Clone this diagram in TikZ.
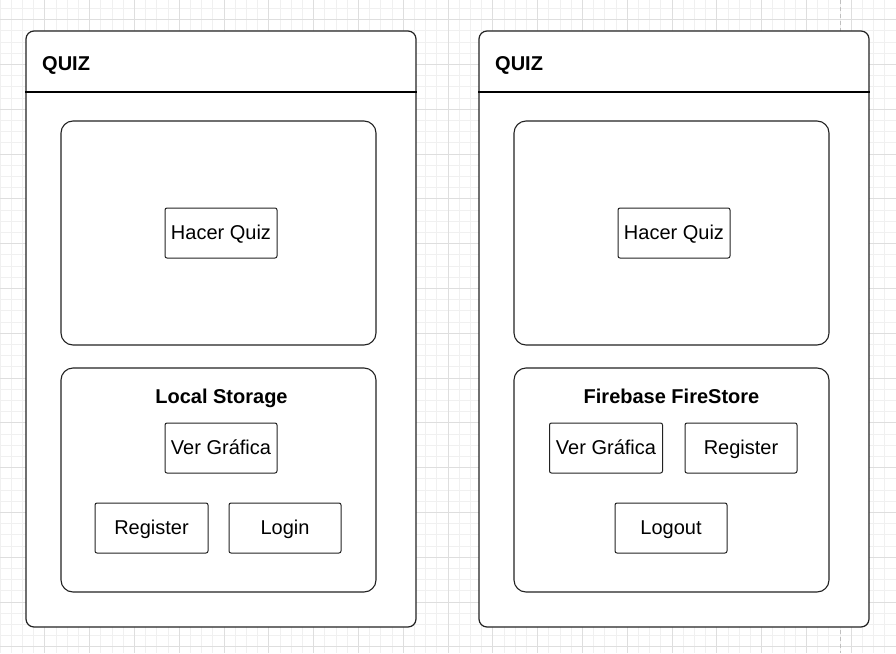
\documentclass[tikz,border=0pt]{standalone}
\usepackage{fontspec}
\setmainfont{Liberation Sans}
\definecolor{minorg}{HTML}{F0F0F0}
\definecolor{majorg}{HTML}{DEDEDE}
\definecolor{edge}{HTML}{222222}
\tikzset{
  outerbox/.style={draw=edge, line width=1.2pt, fill=white, rounded corners=8pt, minimum width=390pt, minimum height=596pt, inner sep=0pt},
  panelbox/.style={draw=edge, line width=1.1pt, fill=white, rounded corners=12pt, minimum width=315pt, minimum height=224pt, inner sep=0pt},
  btn/.style={draw=edge, line width=1pt, fill=white, rounded corners=2pt, minimum width=112pt, minimum height=50pt, inner sep=0pt, text height=13.8pt, text depth=0pt, font=\fontsize{20}{24}\selectfont},
  titletext/.style={font=\fontsize{20}{24}\selectfont\bfseries, inner sep=0pt, text height=14.3pt, text depth=0pt},
  headerline/.style={draw=black, line width=2pt},
}
\begin{document}
\begin{tikzpicture}[x=1pt, y=-1pt]
\useasboundingbox (0,0) rectangle (896,653);
% grid
\foreach \i in {0,...,80} {
  \draw[minorg, line width=0.8pt] (\i*11.2,0) -- (\i*11.2,653);
}
\foreach \i in {0,...,58} {
  \draw[minorg, line width=0.8pt] (0,8.3+\i*11.2) -- (896,8.3+\i*11.2);
}
\foreach \i in {1,...,20} {
  \draw[majorg, line width=0.8pt] (\i*44.8,0) -- (\i*44.8,653);
}
\foreach \i in {0,...,14} {
  \draw[majorg, line width=0.8pt] (0,19.5+\i*44.8) -- (896,19.5+\i*44.8);
}
\draw[gray!50, dash pattern=on 4pt off 3pt, line width=0.8pt] (840,0) -- (840,653);

% left frame
\node[outerbox] (L) at (221,329) {};
\draw[headerline] (L.west |- 0,92) -- (L.east |- 0,92);
\node[titletext, anchor=west] (Ltitle) at (42,63.5) {QUIZ};
\node[panelbox] (Ltop) at (218.5,233) {};
\node[btn] (Lquiz) at (221,233) {Hacer Quiz};
\node[panelbox] (Lbot) at (218.5,480) {};
\node[titletext] (Lstore) at (221.5,396) {Local Storage};
\node[btn] (Lgraf) at (221,448) {Ver Gráfica};
\node[btn, minimum width=113pt] (Lreg) at (151.5,528) {Register};
\node[btn] (Llogin) at (285,528) {Login};

% right frame
\node[outerbox] (R) at (674,329) {};
\draw[headerline] (R.west |- 0,92) -- (R.east |- 0,92);
\node[titletext, anchor=west] (Rtitle) at (495,63.5) {QUIZ};
\node[panelbox] (Rtop) at (671.5,233) {};
\node[btn] (Rquiz) at (674,233) {Hacer Quiz};
\node[panelbox] (Rbot) at (671.5,480) {};
\node[titletext] (Rstore) at (671.5,396) {Firebase FireStore};
\node[btn, minimum width=113pt] (Rgraf) at (606,448) {Ver Gráfica};
\node[btn] (Rreg) at (741,448) {Register};
\node[btn] (Rlogout) at (671,528) {Logout};
\end{tikzpicture}
\end{document}
